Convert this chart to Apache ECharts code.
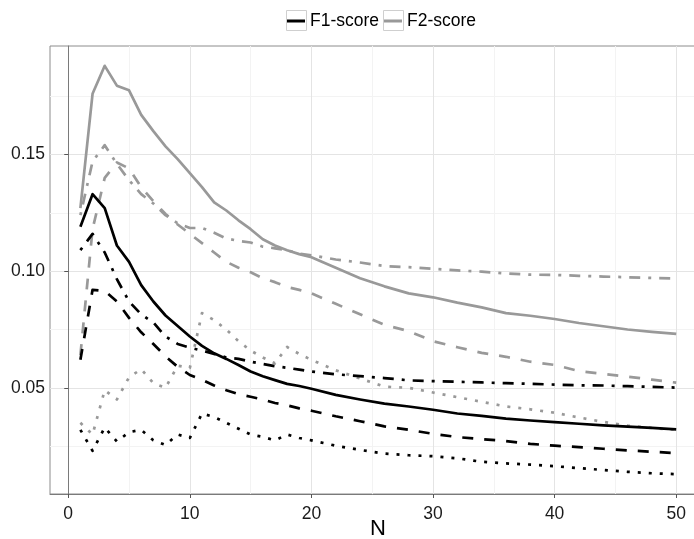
<!DOCTYPE html>
<html>
<head>
<meta charset="utf-8">
<script src="https://cdn.jsdelivr.net/npm/echarts@6/dist/echarts.min.js"></script>
<style>html,body{margin:0;padding:0;background:#fff}#chart{width:694px;height:539px}</style>
</head>
<body>
<div id="chart"></div>
<script>
// N values (x)
const nValues = [1,2,3,4,5,6,7,8,9,10,11,12,13,14,15,16,17,18,19,20,22,24,26,28,30,32,34,36,38,40,42,44,46,48,50];

// F1-score (black)
const f1Solid   = [0.119,0.133,0.127,0.111,0.104,0.094,0.087,0.081,0.0765,0.072,0.068,0.0648,0.0624,0.0598,0.057,0.055,0.0533,0.0517,0.0508,0.0496,0.047,0.045,0.0432,0.042,0.0406,0.039,0.038,0.0368,0.036,0.0353,0.0346,0.0339,0.0334,0.0328,0.0322];
const f1Dashed  = [0.062,0.092,0.0915,0.087,0.080,0.0738,0.0688,0.0635,0.059,0.0555,0.0535,0.051,0.049,0.0473,0.0462,0.045,0.0435,0.0425,0.0412,0.0402,0.0378,0.0357,0.0335,0.032,0.0303,0.0289,0.028,0.0272,0.026,0.0252,0.0246,0.0239,0.0232,0.0226,0.022];
const f1DotDash = [0.109,0.116,0.108,0.0966,0.087,0.0815,0.078,0.072,0.0688,0.0672,0.066,0.0645,0.063,0.0624,0.0612,0.0602,0.0593,0.0586,0.0578,0.057,0.0558,0.055,0.0542,0.0532,0.0529,0.0526,0.0523,0.052,0.0517,0.0514,0.0511,0.051,0.0507,0.0504,0.0501];
const f1Dotted  = [0.032,0.023,0.033,0.027,0.031,0.032,0.0275,0.0255,0.030,0.0285,0.039,0.0375,0.035,0.0325,0.030,0.029,0.0275,0.030,0.0285,0.0275,0.0252,0.0234,0.0218,0.0211,0.0207,0.0198,0.0183,0.0176,0.0171,0.0164,0.0156,0.0148,0.014,0.0134,0.013];

// F2-score (grey)
const f2Solid   = [0.127,0.176,0.188,0.1795,0.1775,0.167,0.160,0.1535,0.148,0.142,0.136,0.1295,0.126,0.1218,0.118,0.1137,0.111,0.109,0.1073,0.106,0.1015,0.097,0.0935,0.0905,0.0888,0.0865,0.0845,0.082,0.0809,0.0795,0.0778,0.0764,0.075,0.074,0.0731];
const f2Dashed  = [0.064,0.118,0.140,0.1466,0.144,0.136,0.130,0.1245,0.120,0.116,0.112,0.108,0.104,0.1015,0.0995,0.097,0.0953,0.0932,0.092,0.0905,0.086,0.0815,0.077,0.0743,0.070,0.0674,0.065,0.0633,0.0612,0.0598,0.0572,0.056,0.0548,0.0535,0.0522];
const f2DotDash = [0.124,0.147,0.154,0.146,0.139,0.133,0.129,0.124,0.1205,0.1185,0.1185,0.1165,0.114,0.113,0.1123,0.1105,0.1098,0.109,0.1075,0.1068,0.105,0.1037,0.1022,0.1017,0.101,0.1003,0.0998,0.099,0.0985,0.0984,0.098,0.0977,0.0974,0.0971,0.0969];
const f2Dotted  = [0.035,0.030,0.049,0.045,0.0545,0.058,0.052,0.050,0.0595,0.0585,0.082,0.079,0.075,0.070,0.066,0.063,0.0605,0.0675,0.0645,0.062,0.0575,0.054,0.0505,0.050,0.048,0.046,0.044,0.042,0.0408,0.0393,0.0373,0.0354,0.0338,0.0328,0.032];

const xTicks = [0,10,20,30,40,50];
const yTicks = [0.05,0.10,0.15];
const legendNames = ['F1-score','F2-score'];

const FONT = 'Liberation Sans, Arial, Helvetica, sans-serif';
const BLACK = '#000000', GREY = '#999999';
const W = 2.7;
const DASH = [11, 11], DOTDASH = [3, 8, 11, 8], DOT = [3, 8];

function mk(name, values, color, type) {
  return {
    name: name, type: 'line', data: nValues.map((n, i) => [n, values[i]]),
    showSymbol: false, symbol: 'none', silent: true, animation: false,
    lineStyle: { color: color, width: W, type: type, cap: 'butt', join: 'round' },
    itemStyle: { color: color }
  };
}

function legendAt(name, left) {
  return {
    data: [name], left: left, top: 11, icon: 'rect', itemWidth: 18, itemHeight: 3, itemGap: 0,
    selectedMode: false, padding: 0,
    textStyle: { fontSize: 17.5, lineHeight: 20, color: '#000', fontFamily: FONT }
  };
}

const chart = echarts.init(document.getElementById('chart'), null, { renderer: 'canvas' });
chart.setOption({
  backgroundColor: '#ffffff',
  animation: false,
  textStyle: { fontFamily: FONT },
  grid: { left: 50, right: -12, top: 46, bottom: 45, show: true, borderColor: '#8c8c8c', borderWidth: 1,
    containLabel: false, outerBoundsMode: 'none' },
  legend: [ legendAt(legendNames[0], 287), legendAt(legendNames[1], 384) ],
  graphic: [
    { type: 'rect', z: 1, shape: { x: 286.5, y: 10.5, width: 20, height: 20 }, style: { fill: '#fff', stroke: '#cfcfcf', lineWidth: 1 } },
    { type: 'rect', z: 1, shape: { x: 383.5, y: 10.5, width: 20, height: 20 }, style: { fill: '#fff', stroke: '#cfcfcf', lineWidth: 1 } }
  ],
  xAxis: {
    type: 'value', min: -1.5, max: 52.45, splitNumber: 5,
    name: 'N', nameLocation: 'middle', nameGap: 24, nameMoveOverlap: false,
    nameTextStyle: { fontSize: 22, color: '#000', fontFamily: FONT },
    axisLine: { show: true, lineStyle: { color: '#7a7a7a', width: 1 } },
    axisTick: { show: true, length: 4, customValues: xTicks, lineStyle: { color: '#555' } },
    axisLabel: { customValues: xTicks, fontSize: 17.5, color: '#1a1a1a', margin: 11, fontFamily: FONT },
    splitLine: { show: true, lineStyle: { color: '#e4e4e4', width: 1 } },
    minorTick: { show: false, splitNumber: 2 },
    minorSplitLine: { show: true, lineStyle: { color: '#f3f3f3', width: 1 } }
  },
  yAxis: {
    type: 'value', min: 0.0045, max: 0.1965, splitNumber: 4,
    axisLine: { show: true, lineStyle: { color: '#7a7a7a', width: 1 } },
    axisTick: { show: true, length: 4, customValues: yTicks, lineStyle: { color: '#555' } },
    axisLabel: { customValues: yTicks, fontSize: 17.5, color: '#1a1a1a', margin: 5, fontFamily: FONT,
      formatter: v => v.toFixed(2) },
    splitLine: { show: true, lineStyle: { color: '#e4e4e4', width: 1 } },
    minorTick: { show: false, splitNumber: 2 },
    minorSplitLine: { show: true, lineStyle: { color: '#f3f3f3', width: 1 } }
  },
  series: [
    mk(legendNames[1], f2Solid, GREY, 'solid'),
    mk(legendNames[1], f2Dashed, GREY, DASH),
    mk(legendNames[1], f2DotDash, GREY, DOTDASH),
    mk(legendNames[1], f2Dotted, GREY, DOT),
    mk(legendNames[0], f1Solid, BLACK, 'solid'),
    mk(legendNames[0], f1Dashed, BLACK, DASH),
    mk(legendNames[0], f1DotDash, BLACK, DOTDASH),
    mk(legendNames[0], f1Dotted, BLACK, DOT)
  ]
});
</script>
</body>
</html>
